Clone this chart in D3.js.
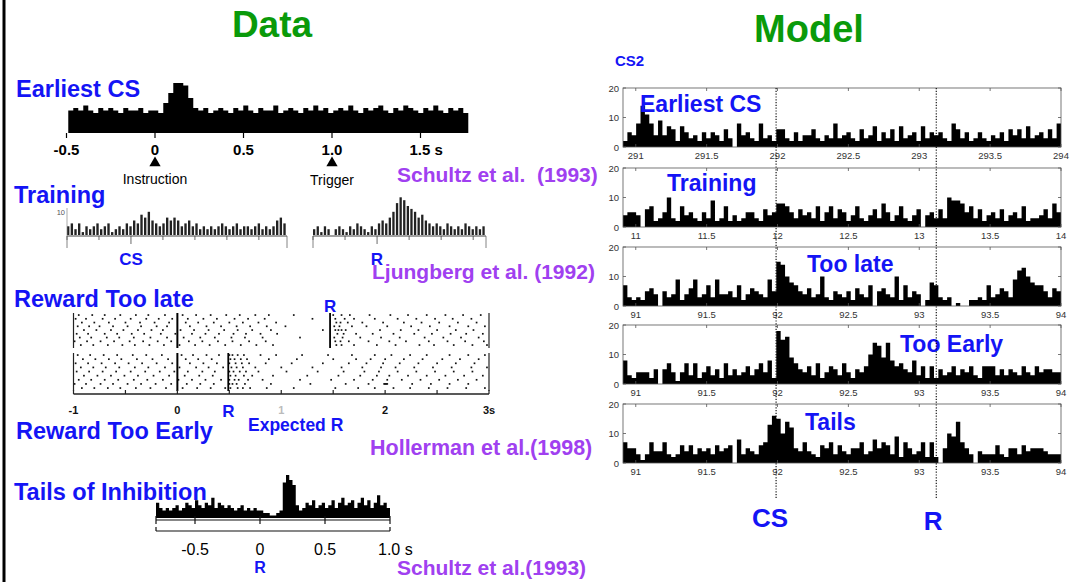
<!DOCTYPE html>
<html>
<head>
<meta charset="utf-8">
<script src="https://cdn.jsdelivr.net/npm/d3@7"></script>
<style>
  body { margin: 0; background: #fff; }
  text { font-family: "Liberation Sans", Arial, sans-serif; }
</style>
</head>
<body>
<svg id="fig" width="1081" height="582"></svg>
<script>
// ---- data ----
// left: recorded histograms (bin heights, arbitrary units)
const earliestRange = [-0.49, 1.77];
const earliestBins = [9,10,9,11,9,8,10,9,10,9,8,10,9,9,10,8,9,9,8,
  12,16,20,20,19,14,10,
  9,10,8,9,10,9,8,10,9,11,9,8,10,9,9,11,8,9,10,9,8,10,9,11,9,10,8,9,10,9,11,9,8,10,
  9,10,11,9,8,10,9,11,10,9,8,10,9,11,9,8,10,9,10,8];
const earliestTicks = [-0.5, 0, 0.5, 1.0, 1.5];
const earliestTickLabels = ['-0.5', '0', '0.5', '1.0', '1.5 s'];

const trainCsRange = [-0.5, 1.22];
const trainCsBins = [3,4,2,4,1,3,2,3,4,2,3,4,1,2,3,2,4,3,5,4,7,6,8,5,4,3,4,6,5,6,
  5,3,4,5,3,4,2,3,2,3,2,3,4,3,2,3,4,2,3,3,2,3,4,2,3,2,3,5,6,4];
const trainRRange = [-0.5, 0.85];
const trainRBins = [2,3,1,3,2,0,2,3,2,1,3,2,4,3,2,1,3,2,4,5,4,6,8,11,13,12,10,9,8,6,
  7,5,4,3,4,3,2,4,3,2,3,2,4,3,2,3,2,3];

// raster spike times, hundredths of a second
const rasterLate = [
  [-95,-82,-70,-55,-40,-28,-12,5,18,32,47,60,75,88,112,150,158,166,185,205,222,240,258,275,292],
  [-98,-88,-72,-60,-45,-30,-18,-5,10,25,38,55,68,84,130,152,161,170,190,212,230,248,265,283],
  [-92,-80,-66,-50,-36,-22,-8,8,20,35,50,63,78,95,153,157,164,178,198,218,235,252,270,288],
  [-96,-85,-75,-62,-48,-35,-20,-10,12,28,42,57,70,86,104,151,156,168,182,202,225,243,262,280,296],
  [-90,-78,-64,-52,-38,-25,-14,3,16,30,45,58,72,90,140,152,155,158,162,195,215,232,250,268,285],
  [-97,-86,-70,-58,-44,-32,-16,-2,14,27,40,54,66,80,96,154,160,172,188,208,228,245,263,278,294],
  [-94,-83,-68,-56,-42,-26,-10,6,22,36,52,65,82,118,151,159,176,196,214,238,256,273,290],
  [-99,-87,-74,-61,-46,-33,-19,-6,11,24,39,53,69,85,152,157,165,184,204,220,242,260,277,295],
  [-93,-81,-67,-53,-41,-27,-13,2,17,31,46,61,76,92,153,158,170,192,210,233,247,266,284,298]
];
const rasterEarly = [
  [-96,-84,-71,-58,-43,-30,-15,4,15,28,40,50,53,58,64,80,95,120,145,168,190,206,224,240,262,280,296],
  [-91,-79,-66,-54,-39,-24,-9,8,20,33,51,55,61,67,88,115,150,172,186,200,218,236,255,272,290],
  [-98,-86,-73,-60,-47,-34,-20,-5,12,25,38,50,56,62,69,85,110,140,165,182,198,214,232,250,268,286],
  [-93,-81,-69,-56,-41,-28,-12,2,18,30,44,52,57,63,75,100,130,158,178,196,210,228,246,264,283,298],
  [-97,-85,-72,-59,-45,-31,-17,-3,10,24,36,50,54,60,66,78,105,135,160,180,194,212,230,248,266,284],
  [-90,-77,-64,-51,-38,-23,-8,7,21,34,51,56,64,72,92,125,155,176,192,204,222,240,258,276,294],
  [-95,-83,-70,-57,-42,-29,-14,1,14,27,42,50,55,59,68,82,118,148,170,188,202,216,234,252,270,288],
  [-99,-88,-74,-62,-48,-35,-21,-6,9,22,35,50,53,57,65,90,128,162,184,199,200,201,202,226,244,262,280],
  [-92,-80,-67,-55,-40,-26,-11,5,19,32,46,51,58,63,70,86,112,152,174,190,208,224,242,260,278,296]
];
const rasterRLate = 1.47;
const rasterREarly = 0.49;
const rasterTicks = [-1, 0, 1, 2, 3];
const rasterTickLabels = ['-1', '0', '1', '2', '3s'];

const tailsRange = [-0.8, 1.0];
const tailsBins = [6,4,3,4,3,4,5,3,4,6,5,4,7,5,4,6,5,8,4,6,5,4,5,4,3,4,5,3,4,3,4,3,
  3,2,2,1,1,2,3,14,17,15,13,5,
  3,4,6,5,7,4,5,6,4,5,7,4,6,8,5,6,7,4,6,8,5,7,4,6,9,5,6,4];
const tailsTicks = [-0.5, 0, 0.5, 1.0];
const tailsTickLabels = ['-0.5', '0', '0.5', '1.0 s'];

// right: model histograms, 100 bins over 3.09 s each
const modelNames = ['Earliest CS', 'Training', 'Too late', 'Too Early', 'Tails'];
const modelStarts = [290.91, 10.91, 90.91, 90.91, 90.91];
const modelTickLabels = [
  ['291', '291.5', '292', '292.5', '293', '293.5', '294'],
  ['11', '11.5', '12', '12.5', '13', '13.5', '14'],
  ['91', '91.5', '92', '92.5', '93', '93.5', '94'],
  ['91', '91.5', '92', '92.5', '93', '93.5', '94'],
  ['91', '91.5', '92', '92.5', '93', '93.5', '94']
];
const modelEarliest = [2,5,4,8,14,11,8,4,9,4,7,6,2,7,5,3,4,2,5,3,5,4,2,6,3,0,8,4,5,3,
  2,8,3,4,2,6,6,3,2,5,2,4,4,6,3,2,4,3,8,3,4,5,3,2,6,3,4,7,2,5,3,6,2,7,3,4,5,2,7,3,
  5,4,5,3,2,8,6,3,5,2,3,5,3,2,4,3,5,2,6,4,6,3,7,3,4,5,3,6,3,8];
const modelTraining = [4,5,5,4,0,6,7,2,3,5,10,3,2,7,4,5,3,2,5,3,9,2,3,7,2,4,2,3,5,5,
  3,2,6,4,5,8,8,7,5,3,6,4,5,3,7,2,5,7,3,6,5,2,4,7,3,2,4,6,3,8,5,2,4,7,3,2,4,6,0,4,
  5,3,6,3,10,9,9,8,5,7,3,6,2,4,5,3,6,2,4,5,3,7,2,3,3,4,6,3,8,5];
const modelTooLate = [7,3,2,3,2,5,6,4,0,5,3,4,9,2,4,6,9,3,4,7,3,9,4,4,5,3,7,2,4,6,
  5,4,3,9,5,15,14,10,8,7,5,4,6,3,4,10,3,2,5,4,3,5,2,6,4,3,7,0,5,6,4,3,10,2,7,3,5,4,0,2,
  8,7,3,2,3,0,1,0,0,2,2,3,2,7,3,4,6,5,3,9,12,13,10,8,7,7,5,3,6,5];
const modelTooEarly = [8,3,2,4,4,4,2,5,0,5,7,4,1,4,7,3,7,2,4,6,3,5,2,7,3,5,3,4,6,3,
  5,7,4,8,2,18,15,16,9,7,5,4,6,3,7,2,4,6,5,3,7,4,2,5,4,6,10,14,13,9,14,8,6,7,5,4,8,3,6,2,
  6,2,5,3,4,6,3,5,4,6,3,2,6,6,6,3,5,3,5,4,3,6,4,3,6,4,5,5,4,4];
const modelTails = [7,5,5,3,1,3,7,4,4,7,3,2,3,6,4,6,3,5,4,5,3,6,4,5,6,0,8,3,5,4,
  3,6,7,13,16,15,10,14,12,5,4,7,4,3,2,6,5,7,3,6,4,3,5,5,7,3,4,8,5,7,6,3,9,2,7,5,3,4,7,2,
  7,2,0,5,10,9,14,7,5,3,0,4,3,3,3,6,3,2,5,5,3,6,4,5,5,5,4,3,3,3];
const modelSeries = [modelEarliest, modelTraining, modelTooLate, modelTooEarly, modelTails];
const csOffset = 1.08;   // CS time after panel start
const rOffset = 2.21;    // R time after panel start

// ---- drawing ----
const BLUE = '#1414f5';
const PURPLE = '#a040f0';
const GREEN = '#0a9a0a';

const svg = d3.select('#fig');

svg.append('line')
  .attr('x1', 4).attr('x2', 4).attr('y1', 0).attr('y2', 582)
  .attr('stroke', '#000').attr('stroke-width', 3);

function label(x, y, txt, size, color, anchor, weight) {
  return svg.append('text')
    .attr('x', x).attr('y', y)
    .attr('text-anchor', anchor || 'start')
    .attr('font-size', size)
    .attr('font-weight', weight || 'bold')
    .attr('fill', color)
    .style('white-space', 'pre')
    .text(txt);
}

// filled step histogram
function stepHist(g, bins, range, x, y, fill) {
  const bw = (range[1] - range[0]) / bins.length;
  const pts = bins.map((v, i) => [range[0] + i * bw, v]);
  pts.push([range[1], bins[bins.length - 1]]);
  const area = d3.area()
    .curve(d3.curveStepAfter)
    .x(d => x(d[0]))
    .y0(y(0))
    .y1(d => y(d[1]));
  g.append('path').attr('d', area(pts)).attr('fill', fill || '#000');
}

label(272, 37, 'Data', 37, GREEN, 'middle');
label(809, 42, 'Model', 38, GREEN, 'middle');

// --- Earliest CS (data) ---
{
  const g = svg.append('g');
  const x = d3.scaleLinear().domain([-0.5, 1.5]).range([66.5, 420.5]);
  const y = d3.scaleLinear().domain([0, 20]).range([133, 83]);
  stepHist(g, earliestBins, earliestRange, x, y);
  g.selectAll('.tk').data(earliestTicks).join('line')
    .attr('x1', d => x(d)).attr('x2', d => x(d))
    .attr('y1', 133).attr('y2', 138)
    .attr('stroke', '#000').attr('stroke-width', 1.2);
  g.selectAll('.tl').data(earliestTicks).join('text')
    .attr('x', (d, i) => i === 4 ? x(d) - 11 : x(d))
    .attr('y', 155)
    .attr('text-anchor', (d, i) => i === 4 ? 'start' : 'middle')
    .attr('font-size', 15)
    .attr('font-weight', 'bold')
    .text((d, i) => earliestTickLabels[i]);
  [0, 1].forEach(t => {
    g.append('path')
      .attr('d', d3.symbol(d3.symbolTriangle, 55)())
      .attr('transform', `translate(${x(t)},163)`)
      .attr('fill', '#000');
  });
  label(x(0), 184, 'Instruction', 14, '#000', 'middle', 'normal');
  label(x(1), 185, 'Trigger', 14, '#000', 'middle', 'normal');
}
label(16, 97, 'Earliest CS', 23.5, BLUE);
label(397, 182, 'Schultz et al.  (1993)', 21, PURPLE);

// --- Training (data) ---
function trainHist(bins, range, px) {
  const g = svg.append('g');
  const x = d3.scaleLinear().domain(range).range(px);
  const y = d3.scaleLinear().domain([0, 10]).range([235, 206]);
  const bw = (range[1] - range[0]) / bins.length;
  g.selectAll('rect').data(bins).join('rect')
    .attr('x', (d, i) => x(range[0] + i * bw))
    .attr('width', Math.max(0.8, x(range[0] + bw) - x(range[0]) - 1.3))
    .attr('y', d => y(d))
    .attr('height', d => y(0) - y(d))
    .attr('fill', '#222');
  g.append('line')
    .attr('x1', px[0]).attr('x2', px[1]).attr('y1', 236).attr('y2', 236)
    .attr('stroke', '#444').attr('stroke-width', 1);
  const ticks = d3.range(range[0], range[1] + 0.001, 0.25);
  g.selectAll('.tk').data(ticks).join('line')
    .attr('x1', d => x(d)).attr('x2', d => x(d))
    .attr('y1', 236).attr('y2', d => Math.abs(d) < 1e-6 ? 244 : 240)
    .attr('stroke', '#444').attr('stroke-width', 0.8);
  [px[0], px[1]].forEach(v => {
    g.append('line').attr('x1', v).attr('x2', v).attr('y1', 236).attr('y2', 248)
      .attr('stroke', '#666').attr('stroke-width', 0.8);
  });
  return {g, x, y};
}
{
  const left = trainHist(trainCsBins, trainCsRange, [67, 287]);
  left.g.append('line').attr('x1', 67).attr('x2', 67).attr('y1', 208).attr('y2', 236)
    .attr('stroke', '#888').attr('stroke-width', 0.7);
  left.g.append('text').attr('x', 65).attr('y', 215).attr('text-anchor', 'end')
    .attr('font-size', 7.5).attr('fill', '#555').text('10');
  trainHist(trainRBins, trainRRange, [313, 486]);
  label(left.x(0), 265, 'CS', 17, BLUE, 'middle');
  label(377, 265, 'R', 17, BLUE, 'middle');
}
label(14, 203, 'Training', 23.5, BLUE);
label(372, 279, 'Ljungberg et al. (1992)', 21, PURPLE);

// --- Raster (data) ---
{
  const g = svg.append('g');
  const x = d3.scaleLinear().domain([-1, 3]).range([73.5, 489]);
  const blocks = [
    {rows: rasterLate, top: 313, bottom: 348, r: rasterRLate},
    {rows: rasterEarly, top: 353, bottom: 391, r: rasterREarly}
  ];
  blocks.forEach(b => {
    const ry = d3.scaleLinear().domain([0, b.rows.length - 1]).range([b.top + 2, b.bottom - 3]);
    b.rows.forEach((row, ri) => {
      g.selectAll(null).data(row).join('rect')
        .attr('x', d => x(d / 100) - 0.8)
        .attr('y', ry(ri) - 0.8)
        .attr('width', 1.7).attr('height', 1.7)
        .attr('fill', '#111');
    });
    [-1, 3].forEach(t => {
      g.append('line').attr('x1', x(t)).attr('x2', x(t))
        .attr('y1', b.top).attr('y2', b.bottom)
        .attr('stroke', '#222').attr('stroke-width', 1.2);
    });
    g.append('line').attr('x1', x(0)).attr('x2', x(0))
      .attr('y1', b.top).attr('y2', b.bottom)
      .attr('stroke', '#000').attr('stroke-width', 2);
    g.append('line').attr('x1', x(b.r)).attr('x2', x(b.r))
      .attr('y1', b.top).attr('y2', b.bottom)
      .attr('stroke', '#000').attr('stroke-width', 1.8);
  });
  g.append('line').attr('x1', x(-1)).attr('x2', x(3)).attr('y1', 394).attr('y2', 394)
    .attr('stroke', '#222').attr('stroke-width', 1.6);
  g.selectAll('.tk').data(d3.range(-1, 3.01, 0.5)).join('line')
    .attr('x1', d => x(d)).attr('x2', d => x(d))
    .attr('y1', 390).attr('y2', 394)
    .attr('stroke', '#222').attr('stroke-width', 1.2);
  g.selectAll('.tl').data(rasterTicks).join('text')
    .attr('x', d => x(d)).attr('y', 414)
    .attr('text-anchor', 'middle')
    .attr('font-size', 11).attr('font-weight', 'bold')
    .attr('fill', d => d === 1 ? '#bbb' : '#111')
    .text((d, i) => rasterTickLabels[i]);
  label(x(rasterRLate), 312, 'R', 17, BLUE, 'middle');
  label(x(rasterREarly), 417, 'R', 17, BLUE, 'middle');
}
label(14, 307, 'Reward Too late', 23.5, BLUE);
label(248, 431, 'Expected R', 17.5, BLUE);
label(16, 439, 'Reward Too Early', 23.5, BLUE);
label(370, 455, 'Hollerman et al.(1998)', 21.5, PURPLE);

// --- Tails of inhibition (data) ---
{
  const g = svg.append('g');
  const x = d3.scaleLinear().domain([-0.5, 0.5]).range([195, 325]);
  const y = d3.scaleLinear().domain([0, 17]).range([518, 475]);
  stepHist(g, tailsBins, tailsRange, x, y);
  g.append('line').attr('x1', x(-0.8)).attr('x2', x(1)).attr('y1', 520).attr('y2', 520)
    .attr('stroke', '#111').attr('stroke-width', 1.2);
  g.selectAll('.tk').data([-0.8, -0.5, 0, 0.5, 1.0]).join('line')
    .attr('x1', d => x(d)).attr('x2', d => x(d))
    .attr('y1', 516).attr('y2', 524)
    .attr('stroke', '#111').attr('stroke-width', 1.2);
  g.append('line').attr('x1', x(-0.8)).attr('x2', x(1)).attr('y1', 531).attr('y2', 531)
    .attr('stroke', '#111').attr('stroke-width', 1.2);
  g.selectAll('.ek').data([-0.8, 1.0]).join('line')
    .attr('x1', d => x(d)).attr('x2', d => x(d))
    .attr('y1', 527).attr('y2', 531)
    .attr('stroke', '#111').attr('stroke-width', 1.2);
  g.selectAll('.tl').data(tailsTicks).join('text')
    .attr('x', (d, i) => i === 3 ? x(d) - 12 : x(d))
    .attr('y', 555)
    .attr('text-anchor', (d, i) => i === 3 ? 'start' : 'middle')
    .attr('font-size', 16)
    .text((d, i) => tailsTickLabels[i]);
  label(x(0), 573, 'R', 16, BLUE, 'middle');
}
label(14, 500, 'Tails of Inhibition', 23.5, BLUE);
label(397, 575, 'Schultz et al.(1993)', 21, PURPLE);

// --- Model panels ---
const panelTops = [88, 168, 247, 325, 404];
const panelH = 59;
const panelX = [623, 1061];
const span = 3.09;
let csX = 0, rX = 0;
modelSeries.forEach((bins, k) => {
  const t0 = modelStarts[k];
  const top = panelTops[k];
  const bottom = top + panelH;
  const g = svg.append('g');
  const x = d3.scaleLinear().domain([t0, t0 + span]).range(panelX);
  const y = d3.scaleLinear().domain([0, 20]).range([bottom, top]);
  stepHist(g, bins, [t0, t0 + span], x, y);
  g.append('rect')
    .attr('x', panelX[0]).attr('y', top)
    .attr('width', panelX[1] - panelX[0]).attr('height', panelH)
    .attr('fill', 'none').attr('stroke', '#555').attr('stroke-width', 0.8);
  const xt = d3.range(0, 7).map(i => Math.round(t0) + 0.5 * i);
  g.selectAll('.xb').data(xt).join('line')
    .attr('x1', d => x(d)).attr('x2', d => x(d))
    .attr('y1', bottom).attr('y2', bottom - 3)
    .attr('stroke', '#555').attr('stroke-width', 0.8);
  g.selectAll('.xtop').data(xt).join('line')
    .attr('x1', d => x(d)).attr('x2', d => x(d))
    .attr('y1', top).attr('y2', top + 3)
    .attr('stroke', '#555').attr('stroke-width', 0.8);
  g.selectAll('.xl').data(xt).join('text')
    .attr('x', d => x(d)).attr('y', bottom + 12)
    .attr('text-anchor', 'middle')
    .attr('font-size', 9.5).attr('fill', '#333')
    .text((d, i) => modelTickLabels[k][i]);
  const yt = [0, 10, 20];
  yt.forEach(v => {
    g.append('line').attr('x1', panelX[0]).attr('x2', panelX[0] + 3)
      .attr('y1', y(v)).attr('y2', y(v)).attr('stroke', '#555').attr('stroke-width', 0.8);
    g.append('line').attr('x1', panelX[1]).attr('x2', panelX[1] - 3)
      .attr('y1', y(v)).attr('y2', y(v)).attr('stroke', '#555').attr('stroke-width', 0.8);
    g.append('text').attr('x', 619).attr('y', y(v) + 3.5)
      .attr('text-anchor', 'end').attr('font-size', 9.5).attr('fill', '#333')
      .text(v);
  });
  if (k === 0) {
    csX = x(t0 + csOffset);
    rX = x(t0 + rOffset);
  }
});
label(615, 66, 'CS2', 15, BLUE);
const panelLabelPos = [[640, 112], [667, 191], [807, 272], [900, 352], [805, 430]];
modelNames.forEach((n, k) => label(panelLabelPos[k][0], panelLabelPos[k][1], n, 23, BLUE));

[csX, rX].forEach(v => {
  svg.append('line')
    .attr('x1', v).attr('x2', v).attr('y1', 88).attr('y2', 498)
    .attr('stroke', '#000').attr('stroke-width', 1.1)
    .attr('stroke-dasharray', '1.2,1.6');
});
label(csX - 6, 527, 'CS', 26, BLUE, 'middle');
label(rX - 3, 530, 'R', 26, BLUE, 'middle');
</script>
</body>
</html>
